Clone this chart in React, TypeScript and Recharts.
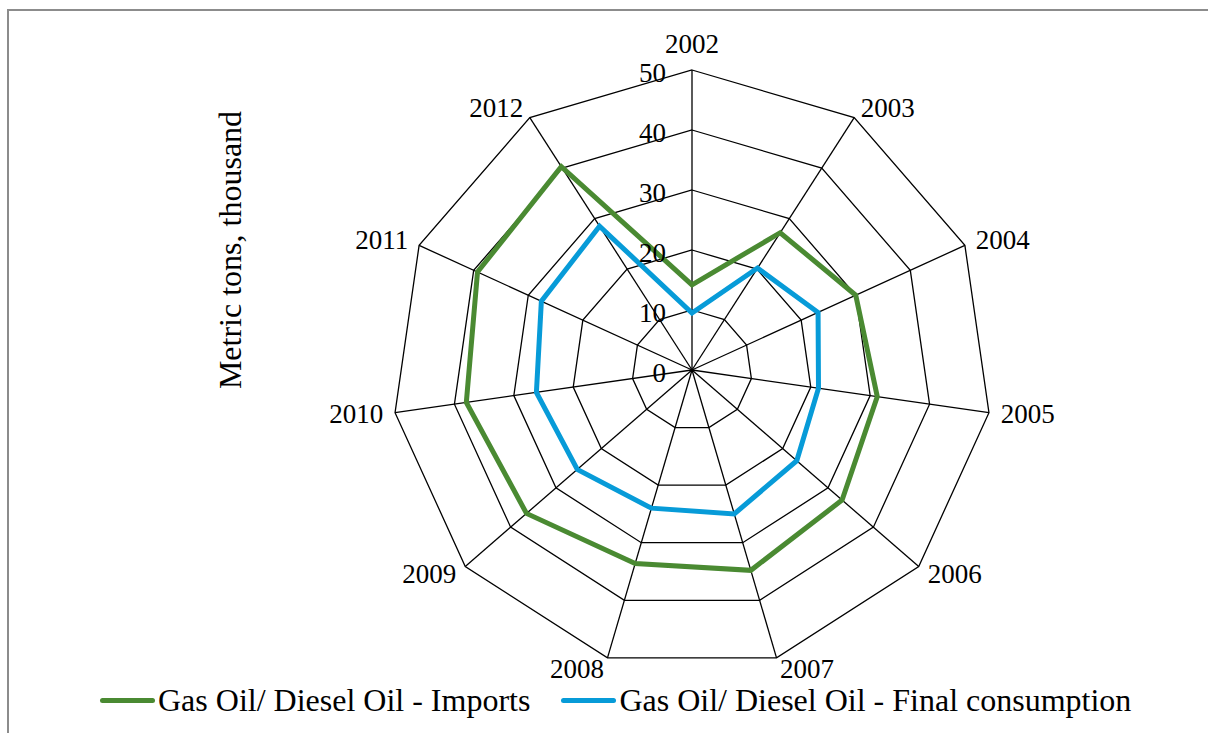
import { RadarChart, Radar, PolarGrid, PolarAngleAxis, PolarRadiusAxis, Legend } from "recharts";

const years = ["2002", "2003", "2004", "2005", "2006", "2007", "2008", "2009", "2010", "2011", "2012"];
const imports = [14.2, 27.2, 30.0, 31.2, 33.1, 34.8, 33.6, 36.5, 38.0, 39.3, 40.3];
const finalConsumption = [9.5, 20.2, 23.1, 21.3, 23.1, 25.0, 24.0, 25.3, 26.2, 27.6, 28.5];
const radiusTicks = [0, 10, 20, 30, 40, 50];

const seriesNames = {
  imports: "Gas Oil/ Diesel Oil - Imports",
  consumption: "Gas Oil/ Diesel Oil - Final consumption",
};
const legendOrder = [seriesNames.imports, seriesNames.consumption];

const data = years.map((y, i) => ({
  year: y,
  imports: imports[i],
  consumption: finalConsumption[i],
}));

const CX = 692;
const CY = 370;
const R = 300;
const font = '"Liberation Serif", "Times New Roman", Times, serif';
const green = "#4a8a32";
const blue = "#079bd8";

function AngleTick(props: any) {
  const a = (props.payload.coordinate * Math.PI) / 180;
  const dx = Math.cos(a);
  const dy = -Math.sin(a);
  const x = CX + (R + 12) * dx;
  let y = CY + (R + 12) * dy;
  const anchor: "start" | "end" | "middle" = dx > 0.1 ? "start" : dx < -0.1 ? "end" : "middle";
  if (anchor === "middle") y -= 14;
  return (
    <text x={x} y={y} textAnchor={anchor} dominantBaseline="central" fontSize={27} fontFamily={font} fill="#000">
      {props.payload.value}
    </text>
  );
}

function RadiusTick(props: any) {
  return (
    <text x={props.x - 26} y={props.y + 3} textAnchor="end" dominantBaseline="central" fontSize={27} fontFamily={font} fill="#000">
      {props.payload.value}
    </text>
  );
}

function LegendBox(props: any) {
  const items = [...(props.payload ?? [])].sort(
    (p: any, q: any) => legendOrder.indexOf(p.value) - legendOrder.indexOf(q.value),
  );
  return (
    <div style={{ display: "flex", alignItems: "center", gap: 31, paddingLeft: 100, fontFamily: font, fontSize: 32, color: "#000", lineHeight: "36px" }}>
      {items.map((it: any) => (
        <div key={it.value} style={{ display: "flex", alignItems: "center" }}>
          <span style={{ display: "inline-block", width: 55, height: 5, borderRadius: 3, background: it.color, marginRight: 3 }} />
          <span>{it.value}</span>
        </div>
      ))}
    </div>
  );
}

export default function App() {
  return (
    <div style={{ position: "absolute", left: 0, top: 0, width: 1208, height: 733, overflow: "hidden", background: "#fff" }}>
      <div style={{ position: "absolute", left: 7, top: 9, width: 1400, height: 900, border: "2px solid #8c8c8c" }} />
      <div
        style={{
          position: "absolute",
          left: 230,
          top: 250,
          transform: "translate(-50%, -50%) rotate(-90deg)",
          whiteSpace: "nowrap",
          fontFamily: font,
          fontSize: 32,
          color: "#000",
        }}
      >
        Metric tons, thousand
      </div>
      <div style={{ position: "absolute", left: 0, top: 0 }}>
        <RadarChart width={1208} height={733} data={data} cx={CX} cy={CY} outerRadius={R} margin={{ top: 0, right: 0, bottom: 0, left: 0 }}>
          <PolarGrid gridType="polygon" stroke="#000" strokeWidth={1.3} strokeOpacity={1} />
          <PolarAngleAxis dataKey="year" tick={AngleTick} tickLine={false} axisLine={false} />
          <PolarRadiusAxis
            angle={90}
            domain={[0, 50]}
            ticks={radiusTicks as any}
            tickCount={6}
            axisLine={false}
            tickLine={false}
            tick={RadiusTick}
          />
          <Radar name={seriesNames.imports} dataKey="imports" stroke={green} strokeWidth={5} fill="none" fillOpacity={0} dot={false} isAnimationActive={false} />
          <Radar name={seriesNames.consumption} dataKey="consumption" stroke={blue} strokeWidth={5} fill="none" fillOpacity={0} dot={false} isAnimationActive={false} />
          <Legend content={LegendBox} wrapperStyle={{ position: "absolute", left: 0, top: 682, width: 1208 }} />
        </RadarChart>
      </div>
    </div>
  );
}
